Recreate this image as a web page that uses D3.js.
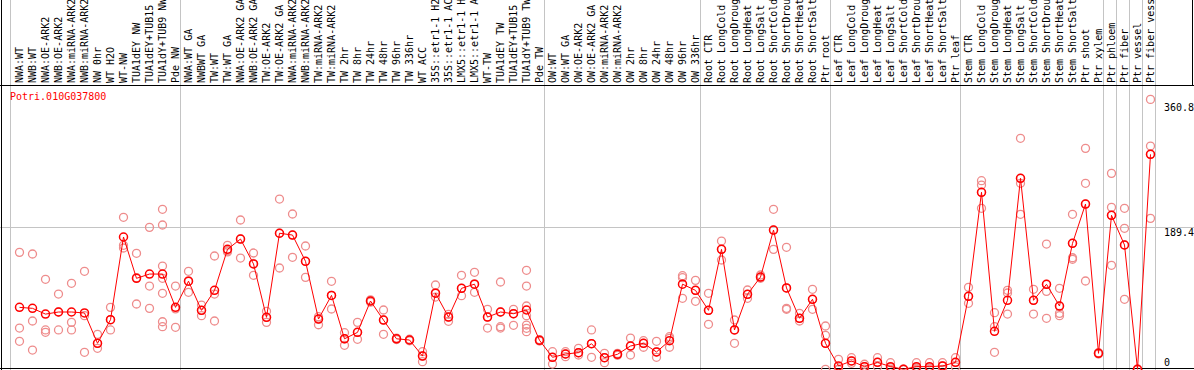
<!DOCTYPE html>
<html>
<head>
<meta charset="utf-8">
<script src="https://cdn.jsdelivr.net/npm/d3@7"></script>
<style>
body { margin: 0; background: #fff; }
svg { display: block; }
text { font-family: "DejaVu Sans Mono", monospace; font-size: 10px; }
</style>
</head>
<body>
<script>
// expression profile of one gene across samples
// means = red line, reps = single replicates (light circles)

var geneName = "Potri.010G037800";

var categories = [
  "NWA:WT", "NWB:WT", "NWA:OE-ARK2", "NWB:OE-ARK2", "NWA:miRNA-ARK2", "NWB:miRNA-ARK2",
  "NW 0hr", "WT H2O", "WT-NW", "TUA1dEY NW", "TUA1dEY+TUB15 NW", "TUA1dY+TUB9 NW", "Pde NW",
  "NWA:WT GA", "NWBWT GA", "TW:WT", "TW:WT GA", "NWA:OE-ARK2 GA", "NWB:OE-ARK2 GA",
  "TW:OE-ARK2", "TW:OE-ARK2 GA", "NWA:miRNA-ARK2 GA", "NWB:miRNA-ARK2 GA", "TW:miRNA-ARK2",
  "TW:miRNA-ARK2 GA", "TW 2hr", "TW 8hr", "TW 24hr", "TW 48hr", "TW 96hr", "TW 336hr",
  "WT ACC", "35S::etr1-1 H2O", "35S::etr1-1 ACC", "LMX5::etr1-1 H2O", "LMX5::etr1-1 ACC",
  "WT-TW", "TUA1dEY TW", "TUA1dEY+TUB15 TW", "TUA1dY+TUB9 TW", "Pde TW",
  "OW:WT", "OW:WT GA", "OW:OE-ARK2", "OW:OE-ARK2 GA", "OW:miRNA-ARK2", "OW:miRNA-ARK2 GA",
  "OW 2hr", "OW 8hr", "OW 24hr", "OW 48hr", "OW 96hr", "OW 336hr",
  "Root CTR", "Root LongCold", "Root LongDrought", "Root LongHeat", "Root LongSalt",
  "Root ShortCold", "Root ShortDrought", "Root ShortHeat", "Root ShortSalt", "Ptr root",
  "Leaf CTR", "Leaf LongCold", "Leaf LongDrought", "Leaf LongHeat", "Leaf LongSalt",
  "Leaf ShortCold", "Leaf ShortDrought", "Leaf ShortHeat", "Leaf ShortSalt", "Ptr leaf",
  "Stem CTR", "Stem LongCold", "Stem LongDrought", "Stem LongHeat", "Stem LongSalt",
  "Stem ShortCold", "Stem ShortDrought", "Stem ShortHeat", "Stem ShortSalt", "Ptr shoot",
  "Ptr xylem", "Ptr phloem", "Ptr fiber", "Ptr vessel", "Ptr fiber vessel"
];

var means = [
  83, 81.7, 74, 76.8, 76.8, 75.5, 35, 66.5, 177, 121.8, 127.5, 127.5, 83,
  118, 79, 105.7, 160.5, 174.3, 141, 69.7, 182, 179.6, 144.5, 67.4, 99, 41, 49.6, 91.5,
  66, 41, 39.4, 18, 102, 70, 108.4, 114, 70, 76.8, 74.5, 79.5, 39,
  16.3, 20.7, 22.5, 34.5, 15.8, 20.3, 31.4, 35, 23.4, 38.5, 114, 105.7,
  79, 160.5, 52.8, 100.4, 123.5, 186.3, 108.9, 68.4, 93.8, 35,
  4.7, 11.4, 3.8, 9.6, 3.8, 0.3, 3.8, 3.8, 4.7, 9.6,
  97.7, 236.7, 51, 92.4, 255.4, 92.4, 113.8, 84.8, 168.5, 221,
  21.6, 206, 166.3, 0.3, 287.4
];

var reps = [
  [156.5, 55.4, 37.7], [154.3, 64.8, 26], [120.5, 52.8, 49.7], [100.8, 76.8, 52.8],
  [115.1, 63, 52.8], [131.2, 71.9, 23], [47, 35, 28.3], [83, 66.5, 52.8],
  [203.3, 165.9, 162.3], [155.2, 122.7, 87.5], [189.9, 111.5, 81.7],
  [214, 193, 138.2, 121.8, 101.8, 63.8, 57.2], [111.5, 81, 56.4],
  [131.2, 118.2, 103.1], [86.1, 79, 71.9], [151.6, 100.8, 64.8], [165.9, 158.6, 157],
  [199.7, 174.3, 148.9], [155.6, 141.6, 125.8], [77.7, 69.7, 63], [227.7, 182, 135.6],
  [207.7, 179.6, 149.9], [165, 144.5, 123.1], [70.5, 67.4, 59.8], [117.8, 99.1, 80.8],
  [49.2, 41.1, 32.3], [63, 49.7, 40.3], [93, 91.5, 90], [79.5, 66.1, 47], [42, 41, 40],
  [40.5, 39.4, 38.3], [23.8, 18, 10.4], [112.9, 102.2, 96.8], [73.7, 70.1, 64.4],
  [125.8, 108.4, 98.6], [129.8, 114.2, 103.1], [80.4, 70.1, 55.4],
  [116.9, 76.8, 57.2, 55.4], [80.4, 74.5, 59], [132.5, 111.5, 84.8, 71.9, 59.4, 55, 50.5],
  [40, 39, 38],
  [23.8, 16.3, 7.3], [23.8, 20.7, 17.1], [28.3, 22.4, 19.4], [52.8, 34.5, 16.3],
  [21.6, 15.8, 9.1], [21.5, 20.3, 19], [42, 31.4, 19.4], [38.5, 35, 29.7],
  [37.7, 23.4, 16.3], [43.8, 41.7, 29.7], [125.3, 122.6, 95.1], [119.1, 105.7, 91.1],
  [101.8, 79, 60.4], [171.6, 160.5, 146.3], [66.1, 52.8, 35], [106.2, 100.4, 95.1],
  [126.2, 123.5, 121.8], [214, 186.3, 160.5], [163.2, 108.9, 81.7, 80.4], [75, 68.4, 64.8],
  [107.1, 93.8, 80.4], [58.1, 45.7, 35, 0.3],
  [13.6, 0.5, 0], [15.8, 11.4, 8.3], [7, 3.8, 0.6], [15.8, 9.6, 3.8], [9.1, 2.5, 0],
  [0.5, 0.2, 0], [9.1, 2, 0.3], [9.1, 2, 0.3], [9.1, 4.7, 0.3], [15.8, 9.6, 3.5],
  [109.8, 97.8, 88.4], [252.2, 246.4, 236.7, 215.3], [75.9, 57.2, 23], [105.8, 102.2, 74.1],
  [308.8, 255.4, 248.7, 207.3], [107.1, 92.4, 74.1], [167.6, 113.8, 104.4, 68.4],
  [108.5, 84.8, 75, 71.9], [207.3, 168.6, 149.3, 147.2], [295.4, 248.7, 221, 118.2],
  [22.5, 21.6, 20.7], [262, 216.6, 206, 139.2], [215.3, 188.6, 166.3, 93.8],
  [0.5, 0.2, 0], [360.8, 298.5, 287.4, 201.9]
];

var yTicks = [0, 189.4, 360.8];

// a grey divider is drawn after each of these
var groupEnds = ["Pde NW", "Pde TW", "OW 336hr", "Ptr root", "Ptr leaf",
                 "Ptr xylem", "Ptr phloem", "Ptr fiber", "Ptr vessel", "Ptr fiber vessel"];

// setup
var W = 1194, H = 370, headH = 85;
var maxChars = 14; // header only has room for 14 chars
var svg = d3.select("body").append("svg").attr("width", W).attr("height", H);

var x = d3.scaleBand()
  .domain(categories)
  .range([13, 13 + 13 * categories.length]);

function cx(c){ return x(c) + x.bandwidth() / 2; }

var y = d3.scaleLinear()
  .domain([0, 360.8])
  .range([369.5, 99.4]);

var grid = "#c4c4c4";

// vertical group dividers (full height, incl. header)
var divs = [x(categories[0]) - 2.5].concat(groupEnds.map(function(c){ return x(c) + 11.5; }));
svg.append("g").selectAll("line")
  .data(divs)
  .join("line")
  .attr("x1", function(d){ return d; }).attr("x2", function(d){ return d; })
  .attr("y1", 0).attr("y2", H)
  .attr("stroke", grid);

// horizontal grid line at the middle tick
svg.append("line")
  .attr("x1", 0).attr("x2", W)
  .attr("y1", Math.floor(y(yTicks[1])) + 0.5).attr("y2", Math.floor(y(yTicks[1])) + 0.5)
  .attr("stroke", grid);

// frame
svg.append("line").attr("x1", 0).attr("x2", W).attr("y1", headH + 0.5).attr("y2", headH + 0.5).attr("stroke", "#000");
svg.append("line").attr("x1", 1.5).attr("x2", 1.5).attr("y1", 0).attr("y2", H).attr("stroke", "#000");
svg.append("line").attr("x1", W - 1.5).attr("x2", W - 1.5).attr("y1", 0).attr("y2", headH).attr("stroke", "#000");
svg.append("line").attr("x1", 0).attr("x2", W).attr("y1", 368.5).attr("y2", 368.5).attr("stroke", "#000");

// sample labels, rotated, cut to what fits in the header
svg.append("g").selectAll("text")
  .data(categories)
  .join("text")
  .attr("transform", function(d){ return "translate(" + cx(d) + ",83) rotate(-90)"; })
  .attr("dy", "0.35em")
  .attr("font-size", 9.7)
  .attr("fill", "#000")
  .text(function(d){ return d.length > maxChars ? d.slice(0, maxChars).trim() : d; });

// gene name
svg.append("text")
  .attr("x", 10).attr("y", 100)
  .attr("fill", "#ff0000")
  .text(geneName);

// y axis on the right
var y_axis = d3.axisRight(y).tickValues(yTicks).tickSize(0).tickPadding(0)
  .tickFormat(function(d){ return d; });

svg.append("g")
  .attr("class", "y axis")
  .attr("transform", "translate(1163,0)")
  .call(customYAxis);

function customYAxis(g) {
  g.call(y_axis);
  g.select(".domain").remove();
  g.selectAll(".tick text")
    .attr("font-family", "DejaVu Sans Mono, monospace")
    .attr("font-size", 10)
    .attr("fill", "#000")
    .attr("x", 1)
    .attr("dy", function(d){ return d === 0 ? -4 : (d === 360.8 ? 11 : 8); });
}

// replicates
var repPts = [];
reps.forEach(function(r, i){
  r.forEach(function(v){ repPts.push({c: categories[i], v: v}); });
});

svg.append("g").selectAll("circle")
  .data(repPts)
  .join("circle")
  .attr("cx", function(d){ return cx(d.c); })
  .attr("cy", function(d){ return y(d.v); })
  .attr("r", 4)
  .attr("fill", "none")
  .attr("stroke", "#ee8c8c")
  .attr("stroke-width", 1.3);

// mean line
var line = d3.line()
  .x(function(d, i){ return cx(categories[i]); })
  .y(function(d){ return y(d); });

svg.append("path")
  .datum(means)
  .attr("d", line)
  .attr("fill", "none")
  .attr("stroke", "#ff0000")
  .attr("stroke-width", 1);

svg.append("g").selectAll("circle")
  .data(means)
  .join("circle")
  .attr("cx", function(d, i){ return cx(categories[i]); })
  .attr("cy", function(d){ return y(d); })
  .attr("r", 4)
  .attr("fill", "none")
  .attr("stroke", "#ff0000")
  .attr("stroke-width", 1.5);
</script>
</body>
</html>
